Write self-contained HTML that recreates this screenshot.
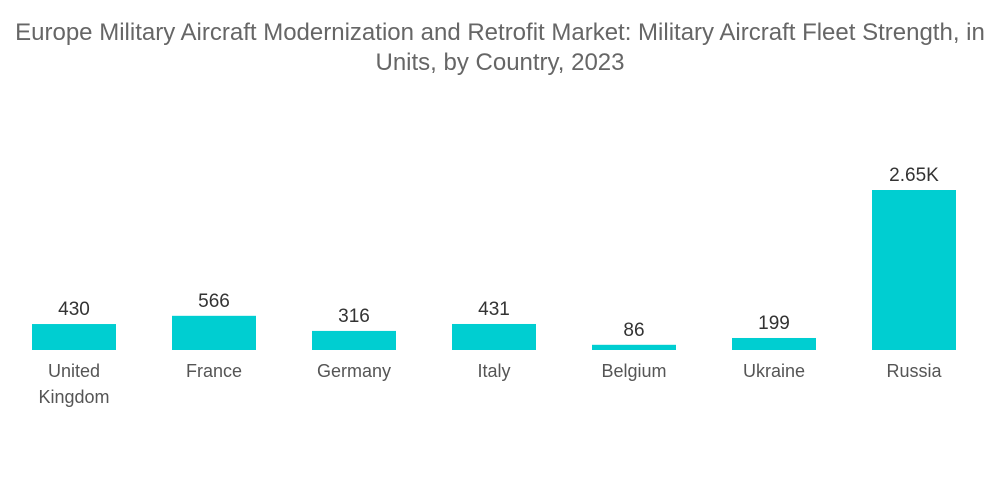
<!DOCTYPE html>
<html><head><meta charset="utf-8"><style>
body{margin:0;background:#fff;width:1000px;height:504px;overflow:hidden;font-family:"Liberation Sans",sans-serif;}
.title{position:absolute;left:0;width:1000px;top:18px;text-align:center;font-size:24px;line-height:30px;color:#666;white-space:nowrap;}
</style></head><body>
<div class="title">Europe Military Aircraft Modernization and Retrofit Market: Military Aircraft Fleet Strength, in<br>Units, by Country, 2023</div>
<svg id="chart" width="1000" height="504" style="position:absolute;left:0;top:0"></svg>
<script>
const categories=["United Kingdom","France","Germany","Italy","Belgium","Ukraine","Russia"];
const values=[430,566,316,431,86,199,2650];
const valueLabels=["430","566","316","431","86","199","2.65K"];
const svg=document.getElementById('chart');
const NS='http://www.w3.org/2000/svg';
const baseY=350, scale=160/2650, x0=32, step=140, bw=84;
function xPos(i){return x0+i*step;}
function yPos(v){return baseY-v*scale;}
categories.forEach((c,i)=>{
  const r=document.createElementNS(NS,'rect');
  r.setAttribute('x',xPos(i));r.setAttribute('y',yPos(values[i]));
  r.setAttribute('width',bw);r.setAttribute('height',baseY-yPos(values[i]));
  r.setAttribute('fill','#00CED1');
  
  
  svg.appendChild(r);
  const t=document.createElementNS(NS,'text');
  t.setAttribute('x',xPos(i)+bw/2);t.setAttribute('y',yPos(values[i])-9);
  t.setAttribute('text-anchor','middle');t.setAttribute('font-size','19');t.setAttribute('fill','#333');
  t.setAttribute('font-family','Liberation Sans, sans-serif');
  t.textContent=valueLabels[i];
  
  
  svg.appendChild(t);
  const words=c==="United Kingdom"?["United","Kingdom"]:[c];
  words.forEach((w,k)=>{
    const l=document.createElementNS(NS,'text');
    l.setAttribute('x',xPos(i)+bw/2);l.setAttribute('y',377+k*26);
    l.setAttribute('text-anchor','middle');l.setAttribute('font-size','18');l.setAttribute('fill','#555');
    l.setAttribute('font-family','Liberation Sans, sans-serif');
    l.textContent=w;
    
    
    svg.appendChild(l);
  });
});
</script>
</body></html>
